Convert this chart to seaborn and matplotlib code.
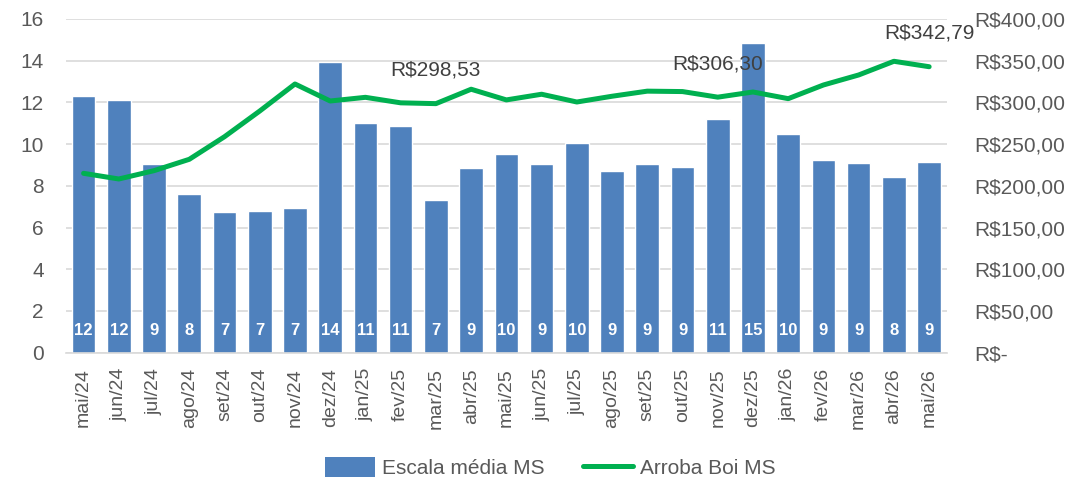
import numpy as np
import pandas as pd
import matplotlib
matplotlib.use("Agg")
import matplotlib.pyplot as plt
from matplotlib.ticker import FuncFormatter, MultipleLocator
from matplotlib.patches import Patch
from matplotlib.lines import Line2D
import seaborn as sns

# Monthly series: average scale (days) and cattle arroba price in MS
meses = ["mai/24", "jun/24", "jul/24", "ago/24", "set/24", "out/24", "nov/24",
         "dez/24", "jan/25", "fev/25", "mar/25", "abr/25", "mai/25", "jun/25",
         "jul/25", "ago/25", "set/25", "out/25", "nov/25", "dez/25", "jan/26",
         "fev/26", "mar/26", "abr/26", "mai/26"]
escala_media = [12.31, 12.13, 9.05, 7.62, 6.76, 6.81, 6.94, 13.94, 11.01, 10.87,
                7.32, 8.85, 9.51, 9.03, 10.05, 8.70, 9.06, 8.90, 11.20, 14.86,
                10.47, 9.22, 9.08, 8.44, 9.14]
arroba_boi = [215.0, 208.2, 218.2, 231.8, 258.9, 289.7, 322.1, 301.7, 306.1, 299.5,
              298.53, 315.8, 303.0, 309.8, 300.5, 307.4, 313.5, 313.0, 306.30, 312.5,
              304.5, 320.9, 332.9, 349.3, 342.79]
meses_rotulados = ["mar/25", "nov/25", "mai/26"]

AZUL = "#4F81BD"
VERDE = "#00B050"
TEXTO = "#595959"
GRADE = "#D9D9D9"


def reais(v, _pos=None):
    if abs(v) < 1e-9:
        return "R$-"
    s = f"{v:,.2f}".replace(",", "X").replace(".", ",").replace("X", ".")
    return "R$" + s


df = pd.DataFrame({"mes": meses, "escala": escala_media, "arroba": arroba_boi})
df["pos"] = np.arange(len(df))

sns.set_theme(style="white")
plt.rcParams["font.family"] = ["Liberation Sans", "DejaVu Sans"]

fig = plt.figure(figsize=(10.71, 4.82), dpi=100)
ax = fig.add_axes([0.0616, 0.2683, 0.8224, 0.6923])

sns.barplot(data=df, x="mes", y="escala", color=AZUL, saturation=1,
            width=0.67, ax=ax, zorder=2)
ax.set_xlim(-0.5, len(meses) - 0.5)
ax.set_ylim(0, 16)
ax.yaxis.set_major_locator(MultipleLocator(2))
ax.grid(axis="y", color=GRADE, linewidth=1.2, zorder=0)
ax.set_axisbelow(True)
ax.set_xlabel("")
ax.set_ylabel("")
for s in ["top", "right", "left"]:
    ax.spines[s].set_visible(False)
ax.spines["bottom"].set_color(GRADE)
ax.spines["bottom"].set_linewidth(1.2)
ax.tick_params(axis="y", length=0, pad=16, labelsize=15, labelcolor=TEXTO)
ax.tick_params(axis="x", which="major", length=0, pad=11, labelsize=14,
               labelcolor=TEXTO, labelrotation=90)
ax.set_xticks(np.arange(-0.5, len(meses), 1.0), minor=True)
ax.tick_params(axis="x", which="minor", length=6, width=1.2, color=GRADE,
               direction="out")

# value labels inside the base of each bar
for i, v in enumerate(df["escala"]):
    ax.text(i, 1.05, f"{v:.0f}", ha="center", va="center", color="white",
            fontsize=12, fontweight="bold", zorder=4)

ax2 = ax.twinx()
sns.lineplot(data=df, x="pos", y="arroba", color=VERDE, linewidth=3.6,
             ax=ax2, zorder=3, solid_capstyle="round", solid_joinstyle="round")
ax2.set_ylim(0, 400)
ax2.set_xlim(-0.5, len(meses) - 0.5)
ax2.yaxis.set_major_locator(MultipleLocator(50))
ax2.yaxis.set_major_formatter(FuncFormatter(reais))
ax2.tick_params(axis="y", length=0, pad=20, labelsize=15, labelcolor=TEXTO)
ax2.set_xlabel("")
ax2.set_ylabel("")
for s in ax2.spines.values():
    s.set_visible(False)

for m in meses_rotulados:
    linha = df[df["mes"] == m].iloc[0]
    ax2.annotate(reais(linha["arroba"]), (linha["pos"], linha["arroba"]),
                 xytext=(0, 24), textcoords="offset points", ha="center",
                 va="center", fontsize=15, color="#404040")

handles = [Patch(facecolor=AZUL, edgecolor="none"),
           Line2D([0], [0], color=VERDE, linewidth=3.6)]
fig.legend(handles, ["Escala média MS", "Arroba Boi MS"], loc="center",
           bbox_to_anchor=(0.5137, 0.03), ncol=2, frameon=False, fontsize=15,
           labelcolor=TEXTO, handlelength=2.4, handleheight=1.1,
           columnspacing=1.82, handletextpad=0.35)

fig.savefig("out.png", dpi=100, facecolor="white")
